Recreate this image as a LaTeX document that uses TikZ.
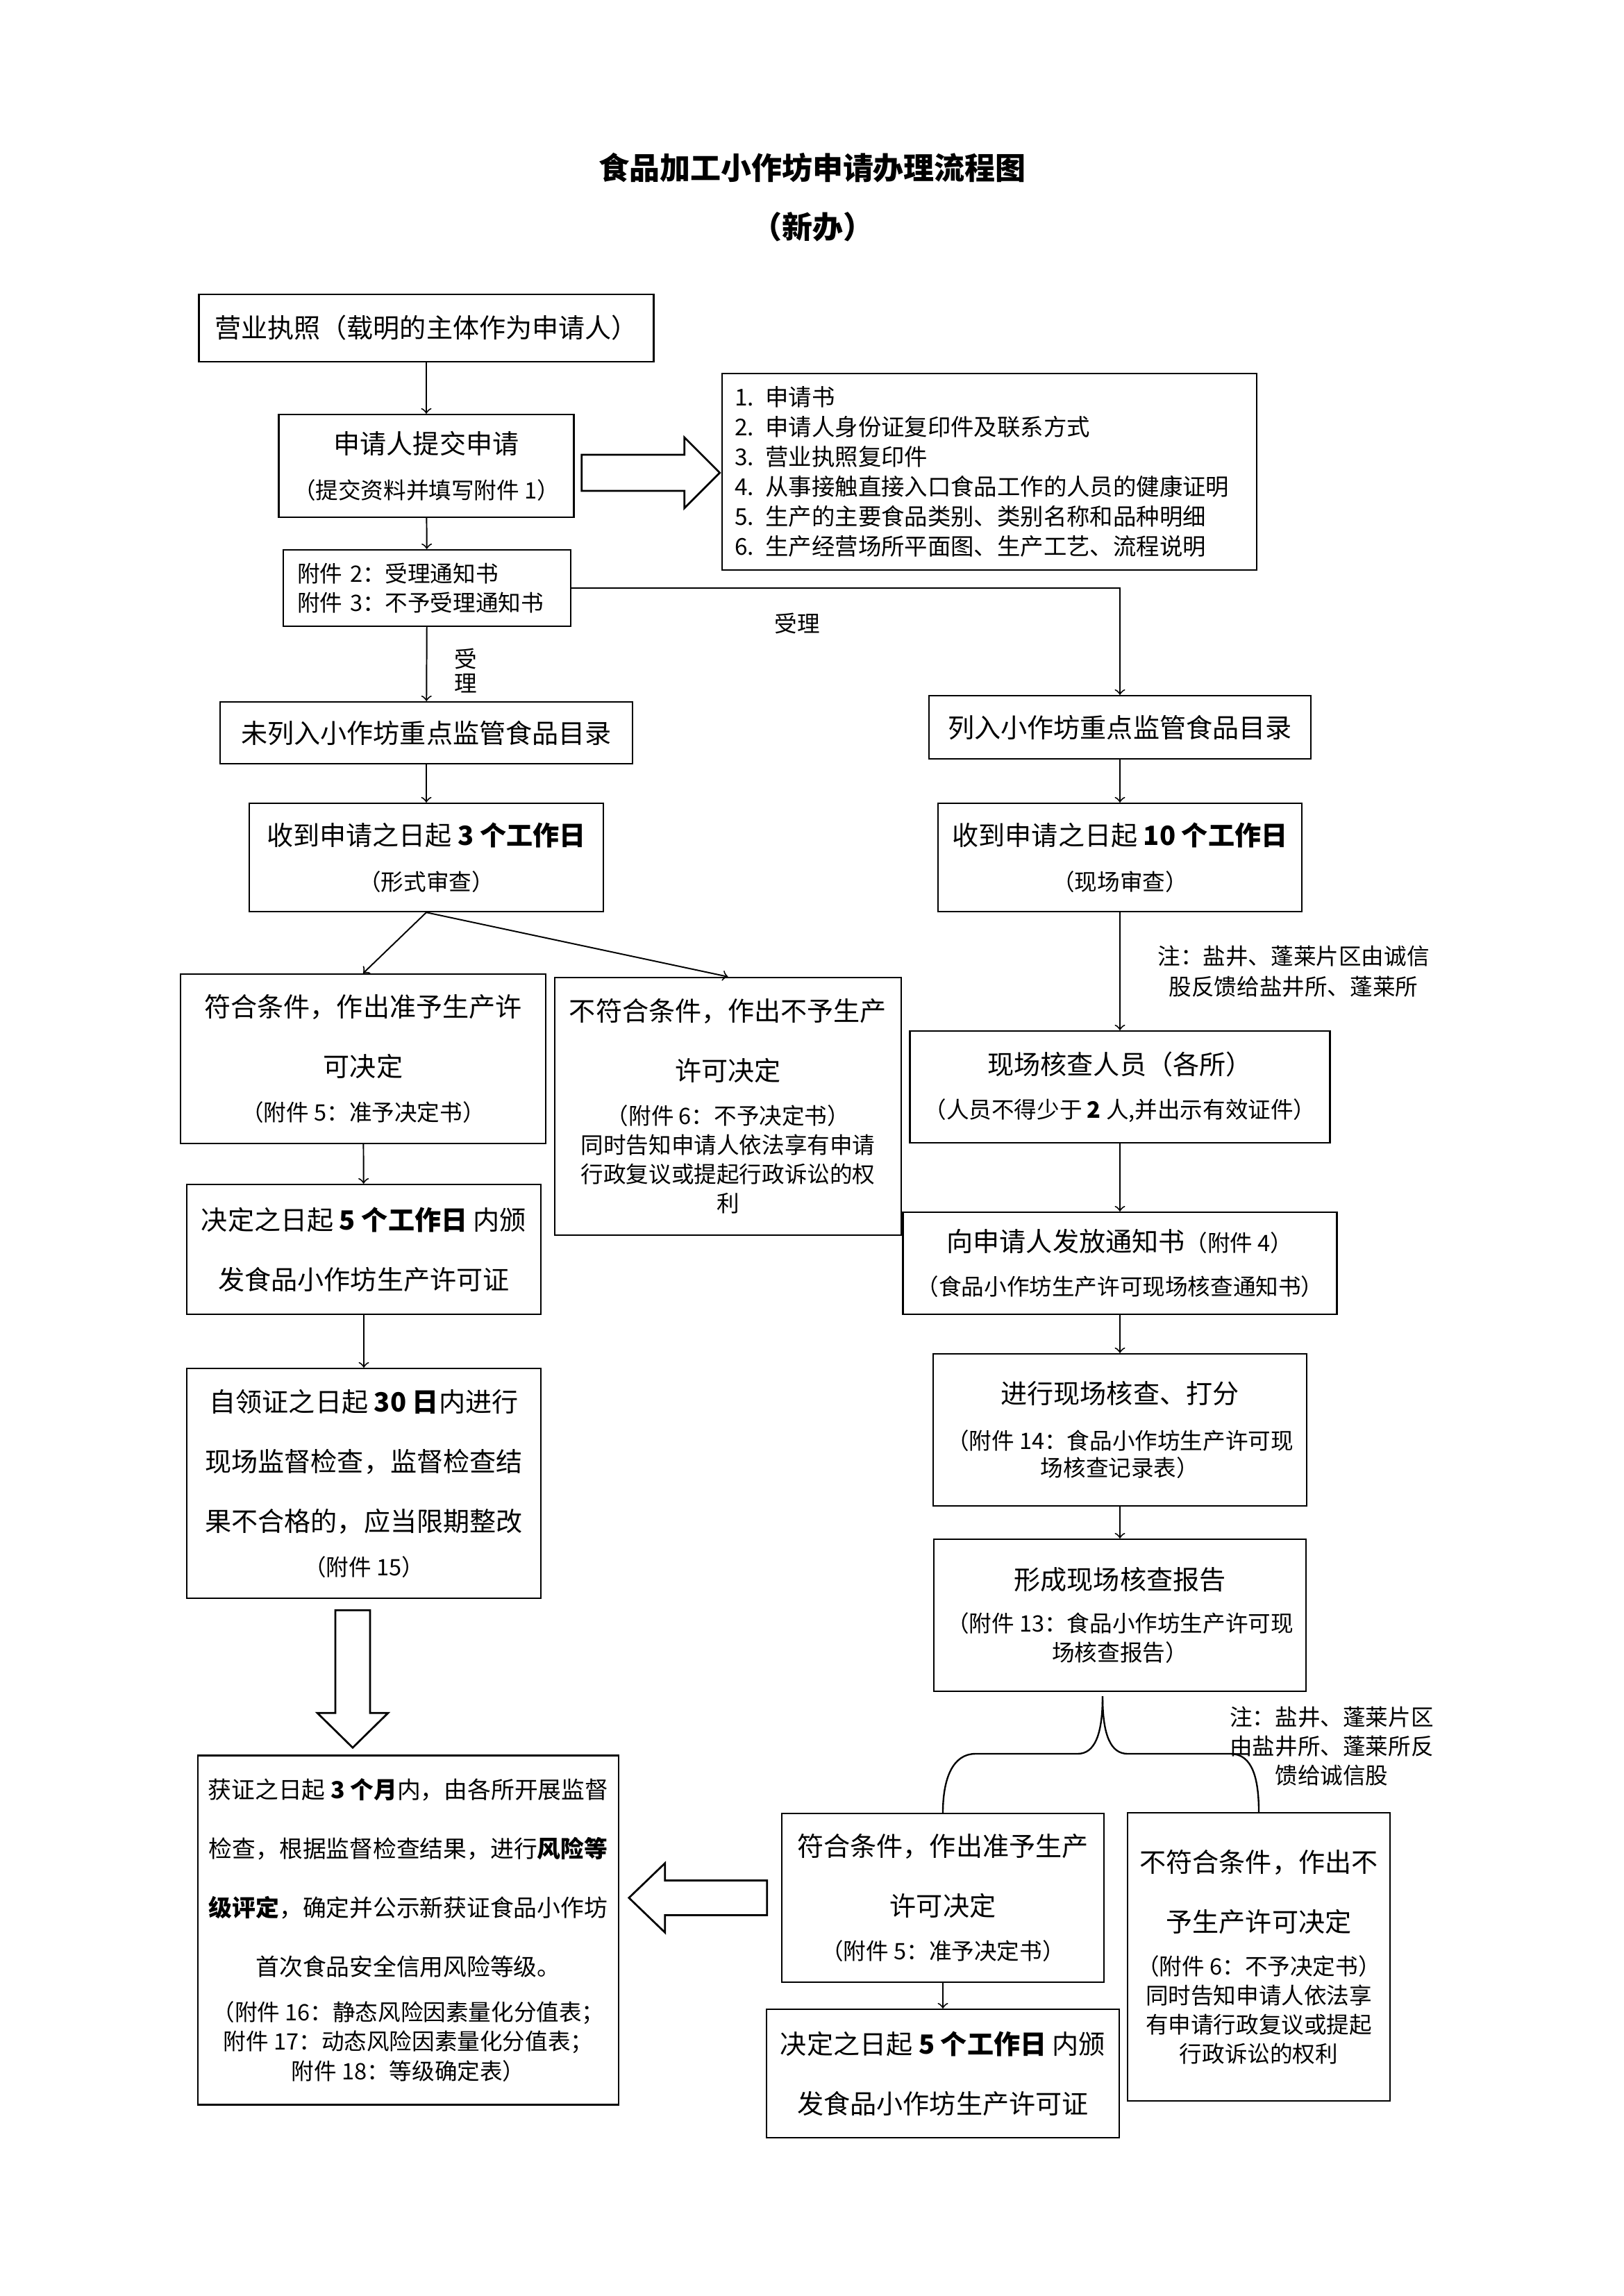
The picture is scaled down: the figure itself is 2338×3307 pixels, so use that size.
\documentclass[tikz,border=0pt]{standalone}
\usepackage{fontspec}
\setmainfont{Noto Sans CJK SC}
\usepackage{tikz}

\newcommand{\pu}{0.25462pt}
\newcommand{\bigt}{\fontsize{9.7pt}{10.7pt}\selectfont}
\newcommand{\smallt}{\fontsize{8.3pt}{10.7pt}\selectfont}
\newcommand{\listt}{\fontsize{8.5pt}{10.95pt}\selectfont}
\newcommand{\midt}{\fontsize{8.6pt}{10pt}\selectfont}
\newcommand{\titlet}{\fontsize{11.2pt}{13pt}\selectfont\bfseries}

\begin{document}
\begin{tikzpicture}[x=0.25462pt, y=-0.25462pt,
  box/.style={draw, line width=0.6pt, align=center, inner sep=0pt, font=\smallt},
  boxsize/.style 2 args={minimum width=#1*\pu, minimum height=#2*\pu},
  link/.style={->, line width=0.5pt},
  fat/.style={line width=0.7pt},
  note/.style={align=center, inner sep=0pt, font=\smallt}]
  \useasboundingbox (0,0) rectangle (2338,3307);

  % title
  \node[font=\titlet] (title) at (1170,242) {食品加工小作坊申请办理流程图};
  \node[font=\titlet] (subtitle) at (1170,327) {（新办）};

  % application
  \node[box, boxsize={655}{97}] (licence) at (614,472.5) {{\bigt 营业执照（载明的主体作为申请人）}};
  \node[box, boxsize={425}{148}] (submit) at (614,671) {{\bigt 申请人提交申请}\\[5.8pt]（提交资料并填写附件 1）};
  \node[box, boxsize={770}{283}, align=left, text width=186.9pt, font=\listt] (docs) at (1425,679.5)
    {1. 申请书\\2. 申请人身份证复印件及联系方式\\3. 营业执照复印件\\4. 从事接触直接入口食品工作的人员的健康证明\\5. 生产的主要食品类别、类别名称和品种明细\\6. 生产经营场所平面图、生产工艺、流程说明};
  \node[box, boxsize={414}{110}, align=left, text width=95.2pt] (notice) at (615,847) {附件 2：受理通知书\\附件 3：不予受理通知书};

  % two branches
  \node[box, boxsize={594}{89}] (unlisted) at (614,1055.5) {{\bigt 未列入小作坊重点监管食品目录}};
  \node[box, boxsize={550}{91}] (listed) at (1613,1047.5) {{\bigt 列入小作坊重点监管食品目录}};
  \node[box, boxsize={510}{156}] (formal) at (614,1235) {{\bigt 收到申请之日起 \textbf{3 个工作日}}\\[5.8pt]（形式审查）};
  \node[box, boxsize={524}{156}] (onsite) at (1613,1235) {{\bigt 收到申请之日起 \textbf{10 个工作日}}\\[5.8pt]（现场审查）};

  % left branch
  \node[box, boxsize={526}{244}] (grant) at (523,1525) {{\bigt 符合条件，作出准予生产许}\\[11.2pt]{\bigt 可决定}\\[5.6pt]（附件 5：准予决定书）};
  \node[box, boxsize={499}{371}] (deny) at (1048.5,1593.5) {{\bigt 不符合条件，作出不予生产}\\[11.2pt]{\bigt 许可决定}\\[5.3pt]（附件 6：不予决定书）\\同时告知申请人依法享有申请\\行政复议或提起行政诉讼的权\\利};
  \node[box, boxsize={510}{187}] (issue) at (524,1799.5) {{\bigt 决定之日起 \textbf{5 个工作日} 内颁}\\[11.2pt]{\bigt 发食品小作坊生产许可证}};
  \node[box, boxsize={510}{331}] (supervise) at (524,2136.5) {{\bigt 自领证之日起 \textbf{30 日}内进行}\\[11.2pt]{\bigt 现场监督检查，监督检查结}\\[11.2pt]{\bigt 果不合格的，应当限期整改}\\[5.6pt]（附件 15）};
  \node[box, boxsize={606}{503}] (rating) at (588,2780) {{\midt 获证之日起 \textbf{3 个月}内，由各所开展监督}\\[10.9pt]{\midt 检查，根据监督检查结果，进行\textbf{风险等}}\\[10.9pt]{\midt\textbf{级评定}，确定并公示新获证食品小作坊}\\[10.9pt]{\midt 首次食品安全信用风险等级。}\\[6pt]（附件 16：静态风险因素量化分值表；\\附件 17：动态风险因素量化分值表；\\附件 18：等级确定表）};

  % right branch
  \node[box, boxsize={605}{161}] (staff) at (1613,1565.5) {{\bigt 现场核查人员（各所）}\\[5.3pt]（人员不得少于 \textbf{2} 人,并出示有效证件）};
  \node[box, boxsize={625}{147}] (notify) at (1613,1819.5) {{\bigt 向申请人发放通知书}（附件 4）\\[5.3pt]（食品小作坊生产许可现场核查通知书）};
  \node[box, boxsize={538}{219}] (check) at (1613,2059.5) {{\bigt 进行现场核查、打分}\\[6pt]（附件 14：食品小作坊生产许可现\\[-0.8pt]场核查记录表）};
  \node[box, boxsize={536}{219}] (report) at (1613,2326.5) {{\bigt 形成现场核查报告}\\[5pt]（附件 13：食品小作坊生产许可现\\场核查报告）};
  \node[box, boxsize={464}{243}] (grant2) at (1358,2733.5) {{\bigt 符合条件，作出准予生产}\\[11.2pt]{\bigt 许可决定}\\[5.3pt]（附件 5：准予决定书）};
  \node[box, boxsize={378}{415}] (deny2) at (1813,2818.5) {{\bigt 不符合条件，作出不}\\[11.2pt]{\bigt 予生产许可决定}\\[5.1pt]（附件 6：不予决定书）\\同时告知申请人依法享\\有申请行政复议或提起\\行政诉讼的权利};
  \node[box, boxsize={508}{185}] (issue2) at (1358,2986.5) {{\bigt 决定之日起 \textbf{5 个工作日} 内颁}\\[11.2pt]{\bigt 发食品小作坊生产许可证}};

  % labels and notes
  \node[note] (accept) at (1148,898) {受理};
  \node[note, font=\fontsize{8.3pt}{8.9pt}\selectfont] (acceptv) at (671,966) {受\\理};
  \node[note] (note1) at (1863,1399) {注：盐井、蓬莱片区由诚信\\[0.5pt]股反馈给盐井所、蓬莱所};
  \node[note] (note2) at (1918,2515) {注：盐井、蓬莱片区\\由盐井所、蓬莱所反\\馈给诚信股};

  % connectors
  \draw[link] (licence) -- (submit);
  \draw[link] (submit) -- (notice);
  \draw[link] (notice) -- (unlisted);
  \draw[link] (notice.east) -| (listed.north);
  \draw[link] (unlisted) -- (formal);
  \draw[link] (listed) -- (onsite);
  \draw[link] (formal.south) -- (grant.north);
  \draw[link] (formal.south) -- (deny.north);
  \draw[link] (grant) -- (issue);
  \draw[link] (issue) -- (supervise);
  \draw[link] (onsite) -- (staff);
  \draw[link] (staff) -- (notify);
  \draw[link] (notify) -- (check);
  \draw[link] (check) -- (report);
  \draw[link] (grant2) -- (issue2);

  % brace under the report
  \coordinate (fork) at ([shift={(-25,6)}]report.south);
  \draw[line width=0.6pt] (fork) .. controls (1588,2500) and (1576,2526) .. (1552,2526) -- (1405,2526)
    .. controls (1372,2526) and (1358,2562) .. (grant2.north);
  \draw[line width=0.6pt] (fork) .. controls (1588,2500) and (1600,2526) .. (1624,2526) -- (1772,2526)
    .. controls (1804,2526) and (1813,2562) .. (deny2.north);

  % hollow block arrows
  \draw[fat] ([shift={(10,10)}]submit.east) ++(0,-26) -- ++(148,0) -- ++(0,-25) -- ++(51,51)
    -- ++(-51,51) -- ++(0,-25) -- ++(-148,0) -- cycle;
  \draw[fat] ([shift={(-16,16)}]supervise.south) ++(-25,0) -- ++(50,0) -- ++(0,148) -- ++(26,0)
    -- ++(-51,50) -- ++(-51,-50) -- ++(26,0) -- cycle;
  \draw[fat] ([shift={(-20,0)}]grant2.west) ++(0,-25) -- ++(-147,0) -- ++(0,-25) -- ++(-52,50)
    -- ++(52,50) -- ++(0,-25) -- ++(147,0) -- cycle;
\end{tikzpicture}
\end{document}
